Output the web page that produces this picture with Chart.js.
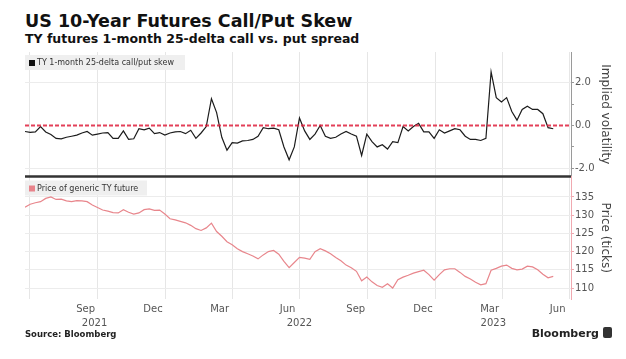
<!DOCTYPE html>
<html>
<head>
<meta charset="utf-8">
<script src="https://cdn.jsdelivr.net/npm/chart.js@4.4.1/dist/chart.umd.min.js"></script>
<style>
  body { margin: 0; background: #fff; width: 626px; height: 359px; overflow: hidden; position: relative; }
  #chart { position: absolute; left: 0; top: 0; }
  .txt { position: absolute; font-family: 'DejaVu Sans', sans-serif; color: #111; white-space: nowrap; }
  #title { left: 25px; top: 12px; font-size: 17.5px; font-weight: bold; line-height: 18px; }
  #subtitle { left: 25px; top: 32px; font-size: 12.5px; font-weight: bold; line-height: 13px; }
  #source { left: 25px; top: 329px; font-size: 8.5px; font-weight: bold; line-height: 10px; color: #222; }
  #brand { right: 14px; top: 327px; font-size: 11px; font-weight: bold; line-height: 13px; color: #222; }
  #brand span { display: inline-block; width: 9px; height: 11px; background: #333; border-radius: 2px; margin-left: 4px; vertical-align: -1px; }
</style>
</head>
<body>
<div id="title" class="txt">US 10-Year Futures Call/Put Skew</div>
<div id="subtitle" class="txt">TY futures 1-month 25-delta call vs. put spread</div>
<canvas id="chart" width="626" height="359"></canvas>
<div id="source" class="txt">Source: Bloomberg</div>
<div id="brand" class="txt">Bloomberg<span></span></div>
<script>
// Date range and axis labels
const xStart = '2021-06-25';
const xEnd = '2023-07-03';
const firstWeek = '2021-06-25';
const gridDates = ['2021-07-01', '2021-10-01', '2022-01-01', '2022-04-01', '2022-07-01', '2022-10-01', '2023-01-01', '2023-04-01', '2023-07-01'];
const monthDates = ['2021-09-15', '2021-12-15', '2022-03-15', '2022-06-15', '2022-09-15', '2022-12-15', '2023-03-15', '2023-06-15'];
const monthLabels = ['Sep', 'Dec', 'Mar', 'Jun', 'Sep', 'Dec', 'Mar', 'Jun'];
const yearDates = ['2021-09-27', '2022-07-01', '2023-03-20'];
const yearLabels = ['2021', '2022', '2023'];
const skewTicks = [-2, -1, 0, 1, 2];
const priceTicks = [110, 115, 120, 125, 130, 135];
const zeroLevel = 0;

// Weekly readings
const skewWeekly = [
  -0.28, -0.32, -0.30, -0.05, -0.30, -0.42, -0.60, -0.62, -0.55, -0.50,
  -0.45, -0.35, -0.28, -0.45, -0.40, -0.35, -0.33, -0.60, -0.60, -0.25,
  -0.65, -0.62, -0.15, -0.20, -0.12, -0.38, -0.33, -0.45, -0.35, -0.30,
  -0.28, -0.38, -0.22, -0.60, -0.35, -0.05, 1.25, 0.60, -0.55, -1.15,
  -0.80, -0.82, -0.72, -0.70, -0.65, -0.50, -0.10, -0.15, -0.12, -0.20,
  -1.00, -1.60, -1.00, 0.35, -0.25, -0.65, -0.40, 0.00, -0.50, -0.60,
  -0.55, -0.40, -0.28, -0.40, -0.50, -1.40, -0.40, -0.75, -1.00, -0.90,
  -1.10, -0.75, -0.80, -0.05, -0.25, -0.05, 0.10, -0.30, -0.30, -0.60,
  -0.20, -0.35, -0.25, -0.15, -0.20, -0.50, -0.65, -0.65, -0.70, -0.60,
  2.50, 1.30, 1.10, 1.30, 0.65, 0.25, 0.75, 0.90, 0.75, 0.75,
  0.55, -0.10, -0.15
];
const priceWeekly = [
  132.2, 133.0, 133.4, 133.7, 134.6, 135.0, 134.3, 134.4, 133.9, 133.7,
  134.0, 133.9, 133.7, 132.8, 132.1, 131.4, 131.1, 130.7, 130.6, 131.5,
  130.8, 130.3, 130.6, 131.5, 131.7, 131.3, 131.4, 130.3, 129.0, 128.7,
  128.3, 127.9, 127.2, 126.3, 125.8, 126.5, 127.8, 125.5, 124.2, 122.7,
  121.9, 120.8, 120.0, 119.4, 118.8, 118.0, 119.1, 120.0, 120.3, 119.3,
  117.3, 115.6, 117.0, 118.4, 118.2, 117.9, 120.0, 120.8, 120.2, 119.4,
  118.4, 117.5, 116.3, 115.6, 114.6, 112.0, 113.0, 111.7, 110.7, 110.2,
  111.2, 110.0, 112.3, 113.0, 113.5, 114.1, 114.5, 114.9, 113.7, 112.2,
  113.7, 115.0, 115.3, 115.3, 114.3, 113.2, 112.5, 111.6, 110.9, 111.2,
  114.9, 115.4, 116.0, 116.3, 115.4, 115.0, 115.2, 116.0, 115.8, 115.0,
  113.8, 112.8, 113.2
];

// Days since 2021-01-01
function dayNum(s) {
  const [y, m, d] = s.split('-').map(Number);
  return (Date.UTC(y, m - 1, d) - Date.UTC(2021, 0, 1)) / 86400000;
}

const weekDays = skewWeekly.map((_, i) => dayNum(firstWeek) + 7 * i);
const gridDays = new Set(gridDates.map(dayNum));
const monthMap = {};
monthDates.forEach((d, i) => { monthMap[dayNum(d)] = monthLabels[i]; });
const yearMap = {};
yearDates.forEach((d, i) => { yearMap[dayNum(d)] = yearLabels[i]; });

const tickFont = { family: 'DejaVu Sans', size: 10 };

// legend boxes and panel separator
const panelDecor = {
  id: 'panelDecor',
  beforeDatasetsDraw(chart) {
    const { ctx, chartArea, scales } = chart;
    const drawKey = (top, w, color, label) => {
      ctx.save();
      ctx.fillStyle = '#efefef';
      ctx.fillRect(chartArea.left, top, w, 15);
      ctx.fillStyle = color;
      ctx.fillRect(chartArea.left + 4, top + 5, 6, 6);
      ctx.fillStyle = '#333';
      ctx.font = '8px "DejaVu Sans"';
      ctx.textBaseline = 'middle';
      ctx.fillText(label, chartArea.left + 12, top + 8);
      ctx.restore();
    };
    drawKey(scales.ySkew.top + 3, 160, '#111', 'TY 1-month 25-delta call/put skew');
    drawKey(scales.yPrice.top + 4, 122, '#e8838b', 'Price of generic TY future');
  },
  afterDatasetsDraw(chart) {
    const { ctx, chartArea, scales } = chart;
    ctx.save();
    ctx.strokeStyle = '#333';
    ctx.lineWidth = 2.5;
    ctx.beginPath();
    ctx.moveTo(chartArea.left, scales.yPrice.top);
    ctx.lineTo(chartArea.right, scales.yPrice.top);
    ctx.stroke();
    ctx.restore();
  }
};

new Chart(document.getElementById('chart'), {
  type: 'line',
  data: {
    datasets: [
      {
        label: 'zero',
        data: [{ x: dayNum(xStart), y: zeroLevel }, { x: dayNum(xEnd), y: zeroLevel }],
        yAxisID: 'ySkew',
        borderColor: 'rgba(222, 30, 60, 0.85)',
        borderWidth: 2,
        borderDash: [4, 2],
        pointRadius: 0
      },
      {
        label: 'TY 1-month 25-delta call/put skew',
        data: weekDays.map((d, i) => ({ x: d, y: skewWeekly[i] })),
        yAxisID: 'ySkew',
        borderColor: '#1c1c1c',
        borderWidth: 1.2,
        pointRadius: 0
      },
      {
        label: 'Price of generic TY future',
        data: weekDays.map((d, i) => ({ x: d, y: priceWeekly[i] })),
        yAxisID: 'yPrice',
        borderColor: '#e8868c',
        borderWidth: 1.2,
        pointRadius: 0
      }
    ]
  },
  options: {
    responsive: false,
    animation: false,
    layout: { padding: { left: 25, top: 52, right: 0, bottom: 28 } },
    plugins: { legend: { display: false }, tooltip: { enabled: false } },
    scales: {
      x: {
        type: 'linear',
        position: 'bottom',
        min: dayNum(xStart),
        max: dayNum(xEnd),
        afterBuildTicks: s => { s.ticks = [...gridDays, ...Object.keys(monthMap).map(Number)].map(v => ({ value: v })); },
        afterFit: s => { s.height = 18; },
        border: { display: false },
        grid: {
          drawTicks: false,
          color: c => (c.tick && gridDays.has(c.tick.value)) ? '#e6e6e6' : 'rgba(0,0,0,0)'
        },
        ticks: {
          autoSkip: false, maxRotation: 0, padding: 4, color: '#555', font: tickFont,
          callback: v => monthMap[v] || ''
        }
      },
      xYear: {
        type: 'linear',
        position: 'bottom',
        min: dayNum(xStart),
        max: dayNum(xEnd),
        afterBuildTicks: s => { s.ticks = Object.keys(yearMap).map(v => ({ value: Number(v) })); },
        afterFit: s => { s.height = 14; },
        border: { display: false },
        grid: { display: false, drawTicks: false },
        ticks: {
          autoSkip: false, maxRotation: 0, padding: 0, color: '#555', font: tickFont,
          callback: v => yearMap[v] || ''
        }
      },
      ySkew: {
        type: 'linear',
        position: 'right',
        stack: 'panels',
        stackWeight: 124.5,
        min: -2.38,
        max: 3.43,
        afterBuildTicks: s => { s.ticks = skewTicks.map(v => ({ value: v })); },
        afterFit: s => { s.width = 55; },
        border: { color: '#9a9a9a' },
        grid: {
          tickLength: 3,
          tickColor: '#9a9a9a',
          color: c => (c.tick && Math.abs(c.tick.value) === 2) ? '#ececec' : 'rgba(0,0,0,0)'
        },
        ticks: {
          autoSkip: false, padding: 1, color: '#555', font: tickFont,
          callback: v => (v % 2 === 0 ? v.toFixed(1) : '')
        },
        title: { display: true, text: 'Implied volatility', color: '#444', font: { family: 'DejaVu Sans', size: 12 }, padding: { top: 14, bottom: 0 } }
      },
      yPrice: {
        type: 'linear',
        position: 'right',
        stack: 'panels',
        stackWeight: 122.5,
        min: 107,
        max: 140.6,
        afterBuildTicks: s => { s.ticks = priceTicks.map(v => ({ value: v })); },
        afterFit: s => { s.width = 55; },
        border: { color: '#f0a9b0' },
        grid: { tickLength: 3, tickColor: '#f0a9b0', color: '#ececec' },
        ticks: { autoSkip: false, padding: 1, color: '#555', font: tickFont },
        title: { display: true, text: 'Price (ticks)', color: '#444', font: { family: 'DejaVu Sans', size: 12 }, padding: { top: 14, bottom: 0 } }
      }
    }
  },
  plugins: [panelDecor]
});
</script>
</body>
</html>
